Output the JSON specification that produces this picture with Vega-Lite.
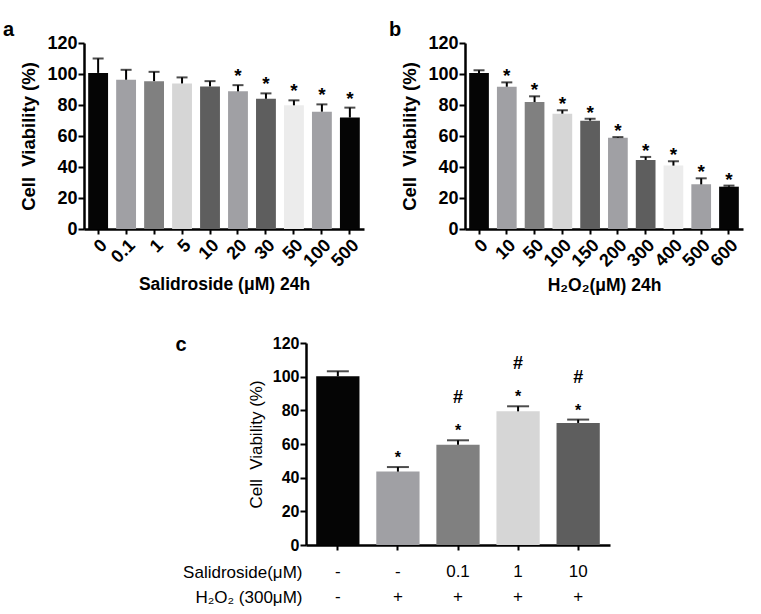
{
  "$schema": "https://vega.github.io/schema/vega-lite/v6.json",
  "background": "white",
  "padding": {"left": 2, "top": 20, "right": 5, "bottom": 5},
  "config": {
    "font": "Liberation Sans",
    "view": {"stroke": null},
    "axis": {"domainColor": "black", "tickColor": "black", "labelColor": "black", "titleColor": "black", "grid": false, "domainWidth": 2.5, "tickWidth": 2, "tickSize": 5, "labelFont": "Liberation Sans", "titleFont": "Liberation Sans", "labelOverlap": false},
    "title": {"color": "black", "font": "Liberation Sans"}
  },
  "spacing": 40,
  "center": false,
  "resolve": {"scale": {"x": "independent", "y": "independent", "color": "independent"}},
  "vconcat": [
    {
      "spacing": 24,
      "resolve": {"scale": {"x": "independent", "y": "independent", "color": "independent"}},
      "hconcat": [
        {
          "width": 280, "height": 186,
          "title": {"text": "a", "anchor": "start", "frame": "bounds", "fontSize": 20, "fontWeight": "bold", "offset": 6, "dx": -17, "dy": 12},
          "data": {"values": [
            {"dose": "0", "mean": 100.7, "upper": 110, "sig": ""},
            {"dose": "0.1", "mean": 96.3, "upper": 102.7, "sig": ""},
            {"dose": "1", "mean": 95.4, "upper": 101.4, "sig": ""},
            {"dose": "5", "mean": 93.9, "upper": 97.8, "sig": ""},
            {"dose": "10", "mean": 92, "upper": 95.4, "sig": ""},
            {"dose": "20", "mean": 88.8, "upper": 92.8, "sig": "*"},
            {"dose": "30", "mean": 84, "upper": 87.5, "sig": "*"},
            {"dose": "50", "mean": 79.8, "upper": 83, "sig": "*"},
            {"dose": "100", "mean": 75.7, "upper": 80.4, "sig": "*"},
            {"dose": "500", "mean": 71.9, "upper": 78.3, "sig": "*"}
          ]},
          "encoding": {
            "x": {"field": "dose", "type": "nominal", "sort": null, "scale": {"paddingInner": 0.29, "paddingOuter": 0.15},
              "axis": {"title": "Salidroside (μM) 24h", "labelAngle": -45, "labelFontSize": 18, "labelFontWeight": "bold", "titleFontSize": 17.5, "titleFontWeight": "bold", "titlePadding": 6, "labelPadding": 2}}
          },
          "layer": [
            {"mark": {"type": "bar"},
             "encoding": {
               "y": {"field": "mean", "type": "quantitative", "scale": {"domain": [0, 120], "nice": false},
                 "axis": {"values": [0, 20, 40, 60, 80, 100, 120], "labelOverlap": false, "title": "Cell\u00a0 Viability (%)", "titleFontSize": 18.5, "titleFontWeight": "bold", "labelFontSize": 18, "labelFontWeight": "bold", "titlePadding": 8, "labelPadding": 1, "tickSize": 6}},
               "color": {"field": "dose", "type": "nominal", "legend": null, "scale": {"domain": ["0","0.1","1","5","10","20","30","50","100","500"], "range": ["#050505","#a0a0a4","#808080","#d6d6d6","#5e5e5e","#a0a0a4","#5e5e5e","#ececec","#a0a0a4","#050505"]}}
             }},
            {"mark": {"type": "rule", "color": "black", "strokeWidth": 2},
             "encoding": {"y": {"field": "mean", "type": "quantitative",
                 "axis": {"values": [0, 20, 40, 60, 80, 100, 120], "labelOverlap": false, "title": "Cell\u00a0 Viability (%)", "titleFontSize": 18.5, "titleFontWeight": "bold", "labelFontSize": 18, "labelFontWeight": "bold", "titlePadding": 8, "labelPadding": 1, "tickSize": 6}}, "y2": {"field": "upper"}}},
            {"mark": {"type": "tick", "color": "black", "thickness": 2, "size": 11, "orient": "horizontal"},
             "encoding": {"y": {"field": "upper", "type": "quantitative",
                 "axis": {"values": [0, 20, 40, 60, 80, 100, 120], "labelOverlap": false, "title": "Cell\u00a0 Viability (%)", "titleFontSize": 18.5, "titleFontWeight": "bold", "labelFontSize": 18, "labelFontWeight": "bold", "titlePadding": 8, "labelPadding": 1, "tickSize": 6}}}},
            {"transform": [{"filter": "datum.sig != ''"}],
             "mark": {"type": "text", "fontSize": 19, "fontWeight": "bold", "baseline": "alphabetic", "dy": -3, "color": "black"},
             "encoding": {"y": {"field": "upper", "type": "quantitative",
                 "axis": {"values": [0, 20, 40, 60, 80, 100, 120], "labelOverlap": false, "title": "Cell\u00a0 Viability (%)", "titleFontSize": 18.5, "titleFontWeight": "bold", "labelFontSize": 18, "labelFontWeight": "bold", "titlePadding": 8, "labelPadding": 1, "tickSize": 6}}, "text": {"field": "sig"}}}
          ]
        },
        {
          "width": 278, "height": 186,
          "title": {"text": "b", "anchor": "start", "frame": "bounds", "fontSize": 20, "fontWeight": "bold", "offset": 6, "dx": -12, "dy": 12},
          "data": {"values": [
            {"dose": "0", "mean": 100.6, "upper": 102.4, "sig": ""},
            {"dose": "10", "mean": 91.8, "upper": 94.6, "sig": "*"},
            {"dose": "50", "mean": 81.9, "upper": 85.6, "sig": "*"},
            {"dose": "100", "mean": 74.4, "upper": 76.6, "sig": "*"},
            {"dose": "150", "mean": 69.9, "upper": 71.2, "sig": "*"},
            {"dose": "200", "mean": 58.9, "upper": 59.3, "sig": "*"},
            {"dose": "300", "mean": 44.5, "upper": 46.5, "sig": "*"},
            {"dose": "400", "mean": 40.9, "upper": 43.7, "sig": "*"},
            {"dose": "500", "mean": 28.8, "upper": 32.7, "sig": "*"},
            {"dose": "600", "mean": 27.3, "upper": 28, "sig": "*"}
          ]},
          "encoding": {
            "x": {"field": "dose", "type": "nominal", "sort": null, "scale": {"paddingInner": 0.29, "paddingOuter": 0.15},
              "axis": {"title": "H₂O₂(μM) 24h", "labelAngle": -45, "labelFontSize": 18, "labelFontWeight": "bold", "titleFontSize": 17.5, "titleFontWeight": "bold", "titlePadding": 7, "labelPadding": 2}}
          },
          "layer": [
            {"mark": {"type": "bar"},
             "encoding": {
               "y": {"field": "mean", "type": "quantitative", "scale": {"domain": [0, 120], "nice": false},
                 "axis": {"values": [0, 20, 40, 60, 80, 100, 120], "labelOverlap": false, "title": "Cell\u00a0 Viability (%)", "titleFontSize": 18.5, "titleFontWeight": "bold", "labelFontSize": 18, "labelFontWeight": "bold", "titlePadding": 8, "labelPadding": 1, "tickSize": 6}},
               "color": {"field": "dose", "type": "nominal", "legend": null, "scale": {"domain": ["0","10","50","100","150","200","300","400","500","600"], "range": ["#050505","#a0a0a4","#808080","#d6d6d6","#5e5e5e","#a0a0a4","#5e5e5e","#ececec","#a0a0a4","#050505"]}}
             }},
            {"mark": {"type": "rule", "color": "black", "strokeWidth": 2},
             "encoding": {"y": {"field": "mean", "type": "quantitative",
                 "axis": {"values": [0, 20, 40, 60, 80, 100, 120], "labelOverlap": false, "title": "Cell\u00a0 Viability (%)", "titleFontSize": 18.5, "titleFontWeight": "bold", "labelFontSize": 18, "labelFontWeight": "bold", "titlePadding": 8, "labelPadding": 1, "tickSize": 6}}, "y2": {"field": "upper"}}},
            {"mark": {"type": "tick", "color": "black", "thickness": 2, "size": 11, "orient": "horizontal"},
             "encoding": {"y": {"field": "upper", "type": "quantitative",
                 "axis": {"values": [0, 20, 40, 60, 80, 100, 120], "labelOverlap": false, "title": "Cell\u00a0 Viability (%)", "titleFontSize": 18.5, "titleFontWeight": "bold", "labelFontSize": 18, "labelFontWeight": "bold", "titlePadding": 8, "labelPadding": 1, "tickSize": 6}}}},
            {"transform": [{"filter": "datum.sig != ''"}],
             "mark": {"type": "text", "fontSize": 19, "fontWeight": "bold", "baseline": "alphabetic", "dy": 0, "color": "black"},
             "encoding": {"y": {"field": "upper", "type": "quantitative",
                 "axis": {"values": [0, 20, 40, 60, 80, 100, 120], "labelOverlap": false, "title": "Cell\u00a0 Viability (%)", "titleFontSize": 18.5, "titleFontWeight": "bold", "labelFontSize": 18, "labelFontWeight": "bold", "titlePadding": 8, "labelPadding": 1, "tickSize": 6}}, "text": {"field": "sig"}}}
          ]
        }
      ]
    },
    {
      "spacing": 20,
      "resolve": {"scale": {"x": "independent", "y": "independent", "color": "independent"}},
      "hconcat": [
        {
          "width": 71, "height": 10,
          "data": {"values": []},
          "mark": {"type": "point", "opacity": 0}
        },
        {
          "width": 304, "height": 202,
          "title": {"text": "c", "anchor": "start", "frame": "bounds", "fontSize": 20, "fontWeight": "bold", "offset": 0, "dx": -7, "dy": 20},
          "data": {"values": [
            {"grp": "-|-", "mean": 100.2, "upper": 103.2, "sig": "", "hash": ""},
            {"grp": "-|+", "mean": 43.6, "upper": 46.3, "sig": "*", "hash": ""},
            {"grp": "0.1|+", "mean": 59.6, "upper": 62.2, "sig": "*", "hash": "#"},
            {"grp": "1|+", "mean": 79.4, "upper": 82.4, "sig": "*", "hash": "#"},
            {"grp": "10|+", "mean": 72.5, "upper": 74.5, "sig": "*", "hash": "#"}
          ]},
          "encoding": {
            "x": {"field": "grp", "type": "nominal", "sort": null, "scale": {"paddingInner": 0.28, "paddingOuter": 0.17},
              "axis": {"title": ["Salidroside(μM)", "H₂O₂ (300μM)"], "titleAlign": "right", "titleAnchor": "start", "titleX": -4, "titleY": 19, "titleBaseline": "top", "titleLineHeight": 25, "titleFontSize": 17, "titleFontWeight": "normal", "labelExpr": "split(datum.label, '|')", "labelLineHeight": 25, "labelBaseline": "top", "labelPadding": 13, "labelAngle": 0, "labelFontSize": 17, "labelFontWeight": "normal"}}
          },
          "layer": [
            {"mark": {"type": "bar"},
             "encoding": {
               "y": {"field": "mean", "type": "quantitative", "scale": {"domain": [0, 120], "nice": false},
                 "axis": {"values": [0, 20, 40, 60, 80, 100, 120], "labelOverlap": false, "title": "Cell\u00a0 Viability (%)", "titleFontSize": 17, "titleFontWeight": "normal", "labelFontSize": 16, "labelFontWeight": "bold", "titlePadding": 7, "labelPadding": 1, "tickSize": 6}},
               "color": {"field": "grp", "type": "nominal", "legend": null, "scale": {"domain": ["-|-","-|+","0.1|+","1|+","10|+"], "range": ["#050505","#a0a0a4","#808080","#d6d6d6","#5e5e5e"]}}
             }},
            {"mark": {"type": "rule", "color": "black", "strokeWidth": 2},
             "encoding": {"y": {"field": "mean", "type": "quantitative",
                 "axis": {"values": [0, 20, 40, 60, 80, 100, 120], "labelOverlap": false, "title": "Cell\u00a0 Viability (%)", "titleFontSize": 17, "titleFontWeight": "normal", "labelFontSize": 16, "labelFontWeight": "bold", "titlePadding": 7, "labelPadding": 1, "tickSize": 6}}, "y2": {"field": "upper"}}},
            {"mark": {"type": "tick", "color": "black", "thickness": 2, "size": 22, "orient": "horizontal"},
             "encoding": {"y": {"field": "upper", "type": "quantitative",
                 "axis": {"values": [0, 20, 40, 60, 80, 100, 120], "labelOverlap": false, "title": "Cell\u00a0 Viability (%)", "titleFontSize": 17, "titleFontWeight": "normal", "labelFontSize": 16, "labelFontWeight": "bold", "titlePadding": 7, "labelPadding": 1, "tickSize": 6}}}},
            {"transform": [{"filter": "datum.sig != ''"}],
             "mark": {"type": "text", "fontSize": 16, "fontWeight": "bold", "baseline": "alphabetic", "dy": -4, "color": "black"},
             "encoding": {"y": {"field": "upper", "type": "quantitative",
                 "axis": {"values": [0, 20, 40, 60, 80, 100, 120], "labelOverlap": false, "title": "Cell\u00a0 Viability (%)", "titleFontSize": 17, "titleFontWeight": "normal", "labelFontSize": 16, "labelFontWeight": "bold", "titlePadding": 7, "labelPadding": 1, "tickSize": 6}}, "text": {"field": "sig"}}},
            {"transform": [{"filter": "datum.hash != ''"}],
             "mark": {"type": "text", "fontSize": 18, "fontWeight": "bold", "baseline": "alphabetic", "dy": -37, "color": "black"},
             "encoding": {"y": {"field": "upper", "type": "quantitative",
                 "axis": {"values": [0, 20, 40, 60, 80, 100, 120], "labelOverlap": false, "title": "Cell\u00a0 Viability (%)", "titleFontSize": 17, "titleFontWeight": "normal", "labelFontSize": 16, "labelFontWeight": "bold", "titlePadding": 7, "labelPadding": 1, "tickSize": 6}}, "text": {"field": "hash"}}}
          ]
        }
      ]
    }
  ]
}
